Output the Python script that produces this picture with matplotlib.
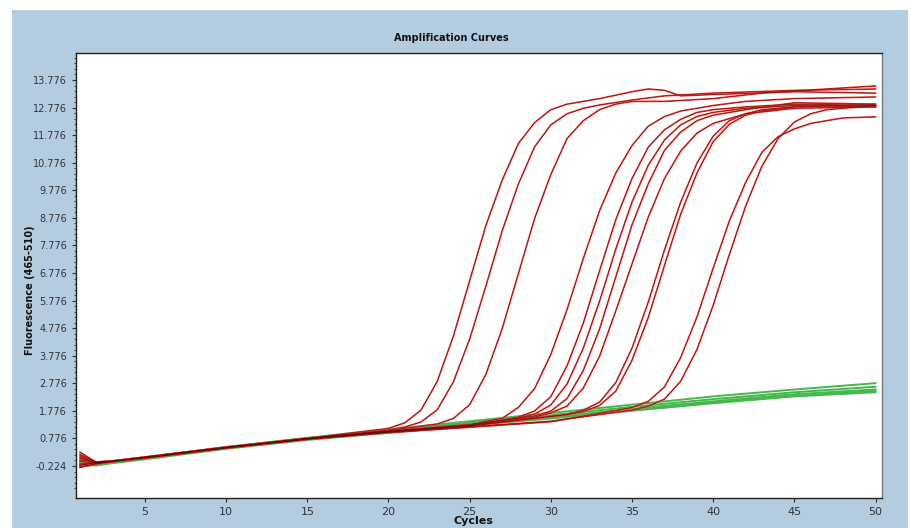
import matplotlib
matplotlib.use("Agg")
import matplotlib.pyplot as plt
from matplotlib.patches import Rectangle

# y tick values as printed on the instrument chart
yticks = [-0.224, 0.776, 1.776, 2.776, 3.776, 4.776, 5.776, 6.776,
          7.776, 8.776, 9.776, 10.776, 11.776, 12.776, 13.776]
xticks = [5, 10, 15, 20, 25, 30, 35, 40, 45, 50]

# negative samples (green)
green_x = [1, 2, 3, 5, 10, 15, 20, 25, 30, 35, 40, 45, 50]
green_y = [
    [-0.05, -0.15, -0.10, 0.08, 0.47, 0.80, 1.10, 1.40, 1.70, 2.00, 2.30, 2.55, 2.78],
    [-0.10, -0.18, -0.08, 0.06, 0.44, 0.78, 1.06, 1.35, 1.62, 1.92, 2.20, 2.45, 2.65],
    [-0.18, -0.20, -0.10, 0.04, 0.42, 0.75, 1.02, 1.30, 1.55, 1.85, 2.12, 2.38, 2.55],
    [-0.22, -0.20, -0.12, 0.02, 0.40, 0.72, 0.98, 1.25, 1.50, 1.78, 2.05, 2.30, 2.45],
    [-0.12, -0.16, -0.09, 0.05, 0.43, 0.76, 1.00, 1.28, 1.52, 1.80, 2.08, 2.32, 2.50],
]

# positive samples (red): cycles and fluorescence for each curve
red_x = [
    [1, 2, 3, 5, 10, 15, 20, 21, 22, 23, 24, 25, 26, 27, 28, 29, 30, 31, 32, 33, 35, 36, 37, 38, 40, 45, 50],
    [1, 2, 3, 5, 10, 15, 20, 21, 22, 23, 24, 25, 26, 27, 28, 29, 30, 31, 32, 33, 35, 37, 40, 45, 50],
    [1, 2, 3, 5, 10, 15, 20, 23, 24, 25, 26, 27, 28, 29, 30, 31, 32, 33, 34, 35, 37, 40, 43, 47, 50],
    [1, 2, 3, 5, 10, 15, 20, 25, 26, 27, 28, 29, 30, 31, 32, 33, 34, 35, 36, 37, 38, 40, 42, 45, 50],
    [1, 2, 3, 5, 10, 15, 20, 25, 27, 28, 29, 30, 31, 32, 33, 34, 35, 36, 37, 38, 39, 40, 42, 45, 50],
    [1, 2, 3, 5, 10, 15, 20, 25, 28, 29, 30, 31, 32, 33, 34, 35, 36, 37, 38, 39, 40, 42, 45, 50],
    [1, 2, 3, 5, 10, 15, 20, 25, 29, 30, 31, 32, 33, 34, 35, 36, 37, 38, 39, 40, 42, 45, 50],
    [1, 2, 3, 5, 10, 15, 20, 25, 29, 30, 31, 32, 33, 34, 35, 36, 37, 38, 39, 40, 42, 45, 50],
    [1, 2, 3, 5, 10, 15, 20, 25, 31, 32, 33, 34, 35, 36, 37, 38, 39, 40, 41, 42, 43, 45, 47, 50],
    [1, 2, 3, 5, 10, 15, 20, 25, 31, 32, 33, 34, 35, 36, 37, 38, 39, 40, 41, 42, 43, 45, 50],
    [1, 2, 3, 5, 10, 15, 20, 25, 30, 34, 35, 36, 37, 38, 39, 40, 41, 42, 43, 44, 45, 46, 47, 48, 50],
    [1, 2, 3, 5, 10, 15, 20, 25, 30, 35, 36, 37, 38, 39, 40, 41, 42, 43, 44, 45, 46, 47, 48, 50],
]
red_y = [
    [0.28, -0.10, -0.05, 0.10, 0.46, 0.78, 1.14, 1.34, 1.80, 2.84, 4.49, 6.50, 8.50, 10.14, 11.47, 12.23, 12.70, 12.90, 13.00, 13.10, 13.35, 13.45, 13.40, 13.20, 13.25, 13.35, 13.30],
    [0.15, -0.12, -0.06, 0.09, 0.45, 0.77, 1.08, 1.19, 1.37, 1.81, 2.83, 4.38, 6.30, 8.30, 10.00, 11.35, 12.15, 12.55, 12.75, 12.87, 13.05, 13.20, 13.30, 13.40, 13.45],
    [0.00, -0.08, -0.04, 0.10, 0.46, 0.78, 1.06, 1.30, 1.50, 2.00, 3.10, 4.75, 6.75, 8.75, 10.35, 11.65, 12.30, 12.70, 12.90, 13.00, 13.00, 13.10, 13.30, 13.45, 13.56],
    [-0.20, -0.10, -0.04, 0.08, 0.44, 0.76, 1.02, 1.26, 1.40, 1.50, 1.90, 2.58, 3.82, 5.45, 7.30, 9.03, 10.40, 11.40, 12.10, 12.45, 12.65, 12.85, 13.00, 13.10, 13.16],
    [-0.28, -0.14, -0.06, 0.07, 0.43, 0.75, 1.02, 1.25, 1.44, 1.55, 1.77, 2.29, 3.41, 4.96, 6.85, 8.71, 10.20, 11.34, 11.97, 12.35, 12.60, 12.70, 12.80, 12.90, 12.85],
    [-0.15, -0.11, -0.05, 0.09, 0.45, 0.77, 1.04, 1.25, 1.51, 1.66, 1.99, 2.75, 4.05, 5.75, 7.64, 9.35, 10.68, 11.60, 12.15, 12.45, 12.60, 12.75, 12.85, 12.80],
    [0.10, -0.09, -0.04, 0.10, 0.46, 0.78, 1.05, 1.28, 1.59, 1.77, 2.22, 3.24, 4.74, 6.63, 8.52, 10.01, 11.22, 11.89, 12.30, 12.50, 12.70, 12.95, 12.90],
    [-0.05, -0.13, -0.07, 0.06, 0.42, 0.74, 1.00, 1.22, 1.55, 1.70, 1.95, 2.60, 3.75, 5.40, 7.10, 8.80, 10.20, 11.20, 11.85, 12.20, 12.55, 12.75, 12.80],
    [-0.25, -0.15, -0.06, 0.07, 0.43, 0.75, 1.01, 1.22, 1.65, 1.80, 2.09, 2.80, 4.05, 5.72, 7.61, 9.35, 10.76, 11.74, 12.30, 12.55, 12.70, 12.80, 12.85, 12.85],
    [0.05, -0.10, -0.05, 0.08, 0.44, 0.76, 1.03, 1.24, 1.64, 1.75, 1.97, 2.49, 3.61, 5.16, 7.05, 8.91, 10.40, 11.54, 12.17, 12.50, 12.65, 12.80, 12.90],
    [-0.18, -0.12, -0.05, 0.08, 0.44, 0.75, 0.98, 1.18, 1.38, 1.79, 1.90, 2.12, 2.64, 3.71, 5.18, 6.95, 8.67, 10.06, 11.15, 11.72, 12.00, 12.20, 12.30, 12.40, 12.44],
    [0.20, -0.08, -0.04, 0.09, 0.45, 0.77, 1.00, 1.20, 1.40, 1.80, 1.95, 2.20, 2.85, 4.00, 5.60, 7.45, 9.20, 10.65, 11.65, 12.25, 12.55, 12.70, 12.75, 12.85],
]

fig = plt.figure(figsize=(9.12, 5.28), dpi=100)
fig.patch.set_facecolor("white")
fig.patches.append(Rectangle((12 / 912, 0), 896 / 912, 518 / 528,
                             transform=fig.transFigure, facecolor="#b4cce0",
                             edgecolor="none", zorder=-10))

ax = fig.add_axes([76 / 912, 30 / 528, 806 / 912, 445 / 528])
ax.set_facecolor("white")

for ys in green_y:
    ax.plot(green_x, ys, color="#44b84c", lw=1.4, zorder=2)

for xs, ys in zip(red_x, red_y):
    ax.plot(xs, ys, color="#e8312a", lw=1.2, zorder=3)
    ax.plot(xs, ys, color="#5c0c0c", lw=0.35, alpha=0.85, zorder=4)

ax.set_xlim(0.75, 50.4)
ax.set_ylim(-1.385, 14.755)
ax.set_xticks(xticks)
ax.set_yticks(yticks)
ax.set_yticklabels(["%.3f" % v for v in yticks])
ax.set_yticks([v + 0.2 * k for v in [-1.224] + yticks for k in range(1, 5)
               if -1.385 < v + 0.2 * k < 14.755], minor=True)
ax.tick_params(axis="both", labelsize=7, colors="#333333", length=3, width=0.8)
ax.tick_params(axis="y", which="minor", length=1.5, width=0.6, colors="#333333")
ax.tick_params(axis="x", labelsize=8)
for s in ax.spines.values():
    s.set_color("#222222")
    s.set_linewidth(1.0)
ax.spines["right"].set_color("#777777")

fig.text(451 / 912, 1 - 38 / 528, "Amplification Curves", ha="center", va="center",
         fontsize=7, fontweight="bold", color="#111111")
fig.text(473 / 912, 1 - 521 / 528, "Cycles", ha="center", va="center",
         fontsize=8, fontweight="bold", color="#111111")
fig.text(30 / 912, 1 - 290 / 528, "Fluorescence (465-510)", ha="center", va="center",
         rotation=90, fontsize=7, fontweight="bold", color="#111111")

fig.savefig("out.png", dpi=100)
